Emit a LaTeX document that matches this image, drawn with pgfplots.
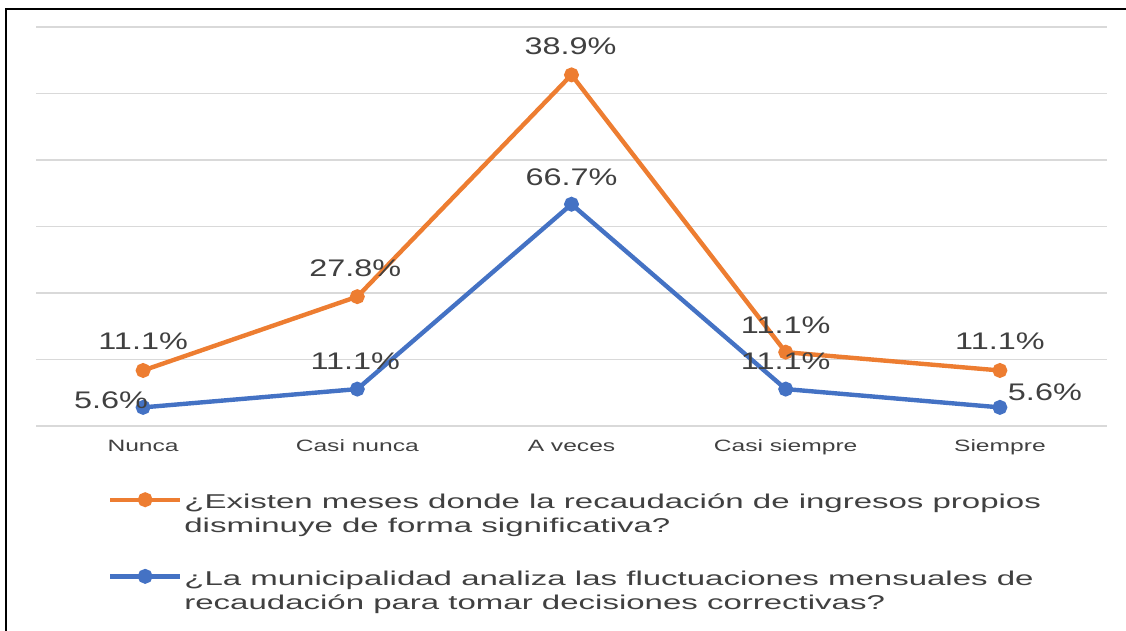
\documentclass[border=0pt]{standalone}
\usepackage{pgfplots}
\pgfplotsset{compat=1.18}
\usepackage{pgfplotstable}
\usepackage{fontspec}
\setmainfont{Liberation Sans}
\newfontfamily\legfont{Liberation Sans}[FakeStretch=1.65]
\newfontfamily\labfont{Liberation Sans}[FakeStretch=1.35]
\newfontfamily\tickfont{Liberation Sans}[FakeStretch=1.5]
\definecolor{cOr}{HTML}{ED7D31}
\definecolor{cBl}{HTML}{4472C4}
\definecolor{cTx}{HTML}{404040}
\definecolor{cGr}{HTML}{D9D9D9}

% x  y(value)  label  xs(pt)  ys(pt)
\pgfplotstableread{
x y lab xs ys
0 5.6 5.6 -16 3.5
1 11.1 11.1 -1 14
2 66.7 66.7 0 13.5
3 11.1 11.1 0 14
4 5.6 5.6 22.5 7.5
}\blue
\pgfplotstableread{
x y lab xs ys
0 11.1 11.1 0 14.5
1 27.8 27.8 -1 14
2 38.9 38.9 -0.5 14.5
3 11.1 11.1 0 13.5
4 11.1 11.1 0 14.5
}\orange

\begin{document}
\begin{tikzpicture}
\useasboundingbox (0,0) rectangle (563pt,315.5pt);
\draw[line width=1pt, black] (3pt,0) -- (3pt,311pt) -- (563pt,311pt);
\begin{axis}[
  at={(18pt,102.5pt)}, anchor=south west,
  scale only axis, width=535.5pt, height=199.5pt,
  xmin=-0.5, xmax=4.5, ymin=0, ymax=120,
  clip=false,
  axis line style={draw=none},
  xtick={0,1,2,3,4},
  xticklabels={Nunca, Casi nunca, A veces, Casi siempre, Siempre},
  ytick={0,20,...,120},
  yticklabels={},
  tick style={draw=none},
  ymajorgrids,
  grid style={cGr, line width=0.6pt},
  xticklabel style={font=\tickfont\fontsize{8.2}{9}\selectfont, text=cTx, anchor=base, yshift=-13pt},
  stack plots=y,
  point meta=explicit symbolic,
  nodes near coords={\pgfplotspointmeta\%},
  visualization depends on={\thisrow{xs} \as \xs},
  visualization depends on={\thisrow{ys} \as \ys},
  every node near coord/.append style={anchor=center, xshift=\xs pt, yshift=\ys pt,
     font=\labfont\fontsize{12}{13}\selectfont, text=cTx, inner sep=0pt},
  legend image code/.code={
     \draw[#1, mark=none] (0pt,16.5pt) -- (35pt,16.5pt);
     \draw[#1, only marks] plot coordinates {(17.5pt,16.5pt)};
  },
  reverse legend,
  legend cell align=left,
  legend style={at={(rel axis cs:0.0672,-0.1704)}, anchor=north west,
     draw=none, fill=none, inner sep=0pt, outer sep=0pt,
     font=\legfont\fontsize{10}{12}\selectfont, text=cTx,
     nodes={inner sep=0pt, text depth={}, align=left, anchor=base west},
     row sep=17pt, column sep=1pt},
]
\addplot[cBl, line width=2.2pt, mark=*, mark size=2.6pt]
  table[x=x, y=y, meta=lab] {\blue};
\addlegendentry{¿La municipalidad analiza las fluctuaciones mensuales de\\recaudación para tomar decisiones correctivas?}
\addplot[cOr, line width=2.2pt, mark=*, mark size=2.6pt]
  table[x=x, y=y, meta=lab] {\orange};
\addlegendentry{¿Existen meses donde la recaudación de ingresos propios\\disminuye de forma significativa?}
\end{axis}
\end{tikzpicture}
\end{document}
